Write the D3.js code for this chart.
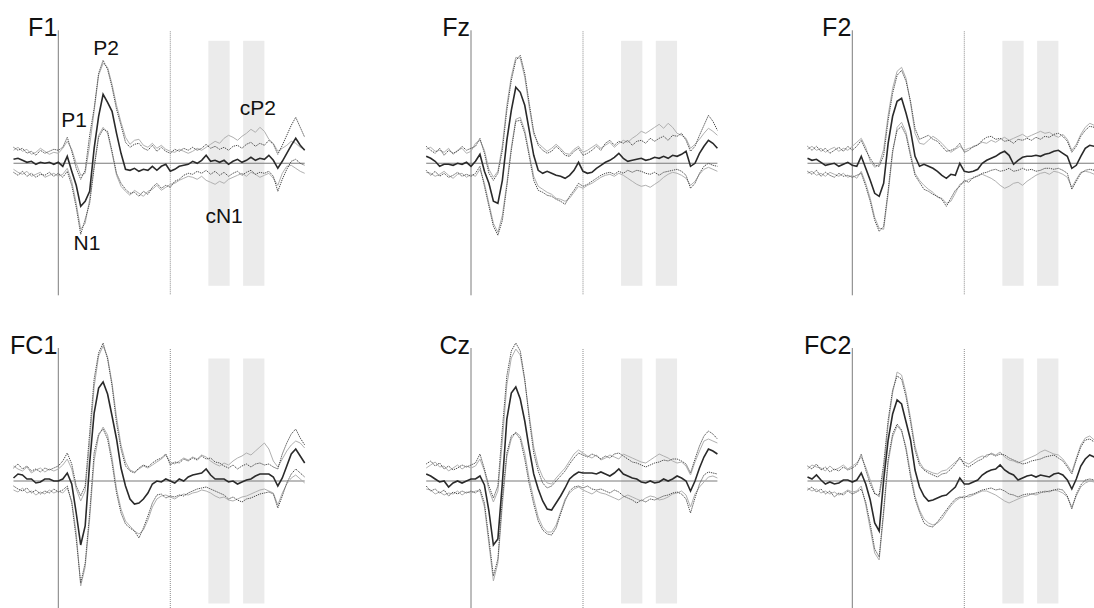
<!DOCTYPE html>
<html>
<head>
<meta charset="utf-8">
<script src="https://cdn.jsdelivr.net/npm/d3@7"></script>
<style>
  body { margin: 0; background: #fff; }
  svg { display: block; font-family: "Liberation Sans", Arial, sans-serif; }
  .band { fill: #ebebeb; }
  .onset { stroke: #7c7c7c; stroke-width: 1; }
  .change { stroke: #8c8c8c; stroke-width: 1; stroke-dasharray: 1,1; }
  .zero { stroke: #7a7a7a; stroke-width: 1.1; }
  .mean { fill: none; stroke: #2a2a2a; stroke-width: 1.6; }
  .ci { fill: none; stroke: #4a4a4a; stroke-width: 1; stroke-dasharray: 1.3,0.9; }
  .ci2 { fill: none; stroke: #b0b0b0; stroke-width: 1; }
  .name { font-size: 25px; fill: #111; }
  .peak { font-size: 21px; fill: #111; }
</style>
</head>
<body>
<script>
// sampling grid (ms), every 20 ms
const times = d3.range(-200, 1101, 20);

const channels = ["F1", "Fz", "F2", "FC1", "Cz", "FC2"];

// onset of the change and the two analysis windows (ms)
const changeAt = 500;
const windows = [[670, 765], [825, 920]];

// component labels, only on F1
const peakLabels = [
    {text: "P2", t: 213, v: 10.8},
    {text: "P1", t: 70, v: 3.6},
    {text: "N1", t: 128, v: -8.7},
    {text: "cN1", t: 740, v: -6.0},
    {text: "cP2", t: 891, v: 4.8}
];

// µV, grand mean and two sets of bounds per channel
const meanF1 = [0.4,0.5,0.3,0.1,0.2,-0.1,0.1,0.0,0.1,-0.1,
    0.1,-0.3,0.7,-0.8,-2.2,-4.3,-3.8,-2.8,1.5,4.7,
    6.9,6.1,5.2,3.0,1.0,-0.6,-0.7,-0.5,-0.8,-0.6,
    -0.7,-0.3,-0.7,-0.3,-0.1,-0.8,-0.6,-0.3,-0.2,-0.1,
    0.2,0.0,0.3,0.8,0.2,0.3,0.1,0.3,-0.1,0.2,
    0.4,0.1,0.3,0.6,0.3,0.5,0.4,0.8,0.3,-0.5,
    0.2,1.0,1.8,2.5,1.8,1.3];
const upperF1 = [1.6,1.3,1.5,1.0,1.2,0.8,1.3,1.0,1.2,1.4,
    1.3,1.6,2.6,1.2,-0.5,-1.6,-0.7,2.8,5.5,9.0,
    10.3,9.4,7.6,5.4,3.8,2.1,1.6,1.9,2.0,1.5,
    1.3,1.8,1.2,1.6,1.2,1.0,1.4,1.2,1.5,1.3,
    1.6,1.3,1.5,1.9,1.5,1.7,1.4,1.6,1.3,1.7,
    1.8,1.5,1.9,2.1,1.7,2.0,1.8,2.3,1.9,0.9,
    1.8,2.8,3.8,4.6,3.6,2.6];
const lowerF1 = [-0.9,-1.2,-0.8,-1.3,-1.0,-1.4,-1.1,-1.2,-0.9,-1.3,
    -1.0,-1.4,-0.8,-2.2,-4.4,-7.1,-5.6,-4.0,-0.5,2.6,
    3.4,3.2,1.2,-1.0,-2.0,-2.6,-3.0,-2.9,-3.3,-2.8,
    -3.1,-2.4,-2.0,-2.5,-2.2,-2.4,-1.8,-1.6,-1.2,-1.0,
    -1.1,-0.8,-1.0,-0.7,-1.1,-0.8,-1.2,-0.9,-1.3,-1.0,
    -0.8,-1.2,-0.9,-0.7,-1.1,-0.9,-1.0,-0.8,-1.3,-2.8,
    -1.6,-0.6,0.2,0.4,0.0,-0.2];
const upper2F1 = [1.3,1.6,1.2,1.4,0.9,1.1,1.5,1.2,0.9,1.1,
    1.0,1.5,2.2,1.4,0.0,-1.2,-1.0,1.8,5.2,8.8,
    10.0,9.6,7.9,5.8,4.1,2.6,1.9,2.3,2.4,1.8,
    1.6,2.0,1.5,1.8,1.4,1.2,1.1,1.4,1.2,1.0,
    1.2,1.5,1.3,1.6,1.9,2.2,2.0,2.5,2.8,2.6,
    2.3,2.7,3.0,3.4,3.1,3.6,3.2,2.4,2.0,1.2,
    1.5,1.8,2.2,2.0,1.6,1.4];
const lower2F1 = [-0.6,-0.9,-1.1,-0.8,-1.3,-1.1,-0.9,-1.4,-1.2,-1.0,
    -1.3,-1.1,-0.5,-1.8,-4.0,-6.6,-6.0,-3.6,-0.2,2.8,
    3.6,3.0,1.0,-1.2,-2.3,-2.8,-3.2,-2.7,-3.0,-3.3,
    -2.8,-2.6,-2.2,-2.7,-2.4,-2.1,-2.0,-1.7,-1.5,-1.3,
    -1.4,-1.6,-1.3,-1.7,-1.9,-2.1,-1.8,-2.0,-1.6,-1.4,
    -1.2,-1.0,-1.3,-0.9,-1.1,-1.4,-1.2,-1.0,-1.5,-2.2,
    -1.0,-0.3,-0.2,-0.5,-0.8,-1.0];

const meanFz = [0.7,0.5,0.2,-0.3,-0.1,-0.1,-0.2,0.0,-0.1,0.1,
    -0.3,0.2,0.9,-0.8,-2.0,-3.8,-4.0,-1.7,2.3,5.3,
    7.6,7.1,5.8,3.3,0.8,-0.7,-1.0,-0.8,-1.0,-1.2,
    -1.3,-1.5,-1.2,-0.7,0.1,-0.8,-1.0,-0.9,-0.5,-0.2,
    0.1,0.3,0.6,1.0,0.5,0.2,0.3,0.4,0.5,0.3,
    0.4,0.6,0.5,0.7,0.5,0.8,0.7,0.9,1.2,-0.3,
    0.0,1.0,1.7,2.3,2.0,1.5];
const upperFz = [1.7,1.3,1.0,1.5,0.8,1.3,1.0,1.2,1.7,1.3,
    1.5,1.7,2.5,1.0,-1.0,-1.7,-1.0,1.3,5.3,8.3,
    10.3,10.8,9.0,6.0,3.2,1.8,1.3,1.0,1.2,1.7,
    1.3,0.8,0.7,1.2,1.5,0.8,1.0,1.3,1.7,1.3,
    2.0,2.3,1.8,2.2,2.0,2.3,1.8,2.2,2.3,2.0,
    2.5,2.2,2.5,2.7,2.3,2.8,2.7,3.0,2.3,1.2,
    1.7,2.8,3.8,4.8,4.2,3.3];
const lowerFz = [-0.7,-1.2,-0.8,-1.3,-1.0,-1.4,-1.2,-0.9,-1.3,-1.1,
    -1.3,-1.0,-0.3,-2.3,-4.3,-6.3,-7.2,-5.7,-2.3,1.3,
    4.2,4.3,3.0,0.7,-1.7,-2.7,-2.9,-3.2,-3.3,-3.6,
    -3.8,-4.1,-3.3,-2.7,-2.0,-2.3,-2.1,-1.8,-1.5,-1.2,
    -1.0,-0.9,-1.1,-0.8,-1.0,-0.7,-0.9,-0.7,-0.8,-1.0,
    -1.1,-0.9,-1.2,-0.9,-0.8,-0.7,-0.6,-0.8,-1.2,-2.5,
    -2.0,-1.0,-0.3,0.0,-0.2,-0.3];
const upper2Fz = [1.4,1.6,1.2,1.3,1.1,1.5,0.9,1.3,1.5,1.0,
    1.2,2.0,2.3,1.3,-0.6,-1.4,-0.8,1.8,5.8,8.7,
    10.6,10.5,8.6,5.6,2.9,2.0,1.6,1.2,1.5,1.9,
    1.5,1.0,0.9,1.4,1.7,1.1,1.3,1.6,1.9,1.5,
    1.8,2.1,1.6,2.0,2.3,2.1,2.5,2.8,3.2,3.0,
    3.3,3.6,3.9,3.5,4.0,3.6,3.0,2.8,2.5,1.5,
    1.9,2.4,3.0,3.5,3.2,2.8];
const lower2Fz = [-0.9,-1.0,-1.3,-1.1,-0.8,-1.2,-1.5,-1.1,-1.0,-1.4,
    -1.1,-1.3,-0.6,-2.0,-4.0,-6.0,-6.9,-5.2,-2.0,1.6,
    4.4,4.6,3.3,1.0,-1.3,-2.3,-2.6,-2.9,-3.1,-3.5,
    -3.6,-3.8,-3.5,-2.9,-2.3,-2.5,-2.2,-2.0,-1.7,-1.4,
    -1.2,-1.1,-1.3,-1.0,-1.2,-1.5,-1.8,-2.1,-2.3,-2.2,
    -2.4,-2.1,-1.8,-1.4,-1.1,-0.9,-1.0,-1.2,-1.5,-2.2,
    -1.8,-1.1,-0.6,-0.4,-0.6,-0.8];

const meanF2 = [0.5,0.3,0.4,0.1,-0.2,-0.1,0.0,-0.3,-0.1,0.1,
    -0.2,-0.3,0.7,-0.5,-1.7,-3.0,-3.3,-2.0,2.0,4.7,
    6.2,6.5,5.0,3.3,0.7,-0.3,-0.1,-0.3,-0.5,-0.8,
    -1.2,-1.5,-1.1,-1.2,0.0,-0.8,-0.9,-0.8,-0.6,0.0,
    0.3,0.5,0.7,1.0,1.2,0.8,-0.1,0.3,0.6,0.7,
    0.7,0.8,0.7,0.9,1.0,1.2,1.3,1.0,0.7,-0.5,
    -0.2,0.7,1.5,1.8,1.7,1.5];
const upperF2 = [1.7,1.3,1.7,1.2,1.5,1.0,1.3,1.6,1.2,1.7,
    1.3,1.7,2.3,1.3,0.5,-0.2,-0.3,0.8,4.3,7.0,
    8.8,9.3,8.2,6.2,3.5,2.4,2.6,2.8,2.4,2.2,
    1.7,1.2,1.3,1.5,2.0,1.1,1.3,1.7,1.8,2.3,
    2.6,2.7,2.4,2.5,2.2,2.3,2.0,2.4,2.3,2.5,
    2.3,2.6,2.4,2.7,2.6,2.9,3.0,2.7,2.2,1.1,
    1.7,2.7,3.3,3.7,3.6,3.3];
const lowerF2 = [-0.8,-1.1,-0.7,-1.3,-0.9,-1.2,-1.4,-1.0,-1.3,-1.2,
    -1.4,-1.2,-1.0,-2.3,-3.8,-5.7,-6.8,-6.3,-2.7,1.3,
    3.3,3.7,2.8,0.7,-1.2,-1.9,-2.6,-2.8,-3.1,-3.3,
    -3.6,-4.3,-3.5,-2.7,-2.3,-1.7,-1.9,-1.4,-1.3,-1.0,
    -0.9,-0.7,-0.6,-0.8,-0.7,-0.5,-0.8,-0.7,-0.5,-0.7,
    -0.6,-0.8,-0.7,-0.5,-0.5,-0.6,-0.5,-0.7,-1.0,-2.6,
    -1.8,-1.0,-0.7,-0.6,-0.7,-0.7];
const upper2F2 = [1.4,1.7,1.3,1.5,1.1,1.4,1.6,1.2,1.5,1.3,
    1.7,2.1,2.5,1.6,0.2,-0.4,-0.1,1.4,4.8,7.5,
    9.2,9.6,8.5,6.0,3.0,2.0,1.9,2.3,2.7,2.4,
    2.0,1.5,1.1,1.4,1.7,1.3,1.5,1.6,1.9,2.1,
    2.0,2.3,2.1,2.4,2.6,2.3,2.5,2.7,2.9,2.6,
    2.8,3.0,3.2,3.0,3.1,2.8,2.6,2.9,2.4,1.3,
    1.9,2.9,3.6,4.0,3.8,3.5];
const lower2F2 = [-1.0,-0.8,-1.2,-1.0,-1.3,-0.9,-1.1,-1.3,-1.0,-1.4,
    -1.2,-1.5,-0.8,-2.0,-3.5,-5.4,-6.5,-6.6,-3.1,1.0,
    3.6,4.1,3.1,1.0,-1.0,-1.7,-2.2,-2.6,-2.9,-3.4,
    -3.5,-4.0,-3.8,-3.0,-2.1,-1.9,-1.6,-1.5,-1.2,-1.1,
    -1.3,-1.5,-1.8,-2.2,-2.5,-2.3,-2.0,-1.9,-2.2,-1.8,
    -1.5,-1.2,-1.0,-0.9,-1.1,-0.8,-0.9,-1.1,-1.4,-2.4,
    -1.6,-0.9,-0.8,-0.9,-1.1,-1.0];

const meanFC1 = [0.3,0.7,0.6,0.2,0.2,-0.2,-0.1,0.2,0.2,0.0,
    0.0,0.2,0.8,-0.3,-3.2,-6.4,-4.5,1.8,6.8,9.3,
    9.9,8.7,6.5,4.2,1.3,-0.5,-1.8,-2.3,-2.2,-1.8,
    -1.2,-0.3,0.0,-0.1,0.2,0.0,-0.2,0.2,0.0,0.4,
    0.6,0.7,0.8,1.2,0.6,0.2,0.2,0.2,-0.1,0.0,
    -0.3,-0.1,0.1,0.2,0.5,0.7,0.7,0.7,0.4,-0.5,
    0.3,1.5,2.7,3.2,2.5,1.8];
const upperFC1 = [1.3,1.7,1.2,1.5,1.0,1.2,0.9,1.3,1.1,1.3,
    1.5,2.0,2.8,1.7,-0.5,-1.5,-0.5,4.8,10.2,12.8,
    13.8,12.2,9.5,5.8,3.2,1.5,1.0,0.8,1.3,1.6,
    1.4,1.8,2.1,2.3,2.7,1.6,1.9,1.8,2.2,2.0,
    2.3,2.1,2.5,2.2,2.3,1.9,1.8,1.5,1.3,1.6,
    1.2,1.5,1.7,1.4,1.7,1.8,1.6,1.7,1.4,1.2,
    2.7,3.8,4.7,5.2,4.3,3.6];
const lowerFC1 = [-0.5,-0.8,-1.0,-0.7,-1.2,-0.9,-1.3,-1.0,-1.2,-0.8,
    -1.1,-0.9,-0.5,-2.2,-5.8,-10.2,-8.2,-3.2,2.8,4.7,
    5.2,4.2,1.8,-1.2,-3.2,-4.3,-4.7,-5.0,-5.7,-4.7,
    -3.5,-2.2,-1.4,-1.3,-1.7,-1.5,-1.6,-1.4,-1.5,-1.2,
    -1.0,-0.8,-0.7,-0.6,-0.8,-1.0,-1.2,-1.4,-1.8,-1.6,
    -1.9,-2.1,-1.8,-1.7,-1.5,-1.3,-1.2,-1.1,-1.3,-2.7,
    -1.5,-0.2,0.7,1.2,0.8,0.4];
const upper2FC1 = [1.5,1.2,1.0,1.4,0.8,1.1,1.3,0.9,1.2,1.0,
    1.2,1.6,2.2,1.2,-0.8,-2.0,-1.0,3.8,9.4,12.5,
    13.5,12.4,9.8,6.4,3.6,1.9,1.1,0.9,1.2,1.5,
    1.3,1.6,1.9,2.2,2.6,1.9,1.7,2.0,2.3,2.1,
    2.4,2.2,2.6,2.4,2.0,1.7,1.5,1.8,1.6,2.0,
    2.3,2.5,2.8,2.6,3.0,3.4,3.8,3.2,2.0,1.4,
    2.2,3.0,3.6,4.0,3.8,3.3];
const lower2FC1 = [-0.9,-1.1,-0.7,-1.2,-1.0,-1.4,-1.1,-1.3,-0.9,-1.2,
    -1.0,-1.2,-0.7,-2.0,-5.2,-10.5,-8.6,-3.8,2.0,4.5,
    5.4,4.6,2.3,-0.8,-2.8,-4.0,-4.5,-5.0,-5.3,-4.9,
    -3.9,-2.6,-1.8,-1.5,-1.4,-1.6,-1.8,-1.5,-1.3,-1.4,
    -1.2,-1.1,-0.9,-1.0,-1.2,-1.5,-1.7,-1.6,-1.9,-2.0,
    -1.8,-1.6,-1.5,-1.3,-1.1,-0.9,-0.8,-1.0,-1.2,-2.4,
    -1.2,-0.3,0.3,0.6,0.2,-0.2];

const meanCz = [0.7,0.5,0.2,-0.1,0.0,-0.6,-0.2,0.0,-0.2,0.0,
    0.2,0.2,0.5,-0.4,-3.0,-6.4,-5.8,-0.2,6.2,8.8,
    9.4,8.2,6.0,3.2,0.7,-0.8,-2.0,-2.8,-2.9,-2.2,
    -1.5,-0.7,0.2,0.6,0.9,0.8,0.8,0.8,0.7,0.9,
    0.7,0.5,0.8,1.2,0.7,0.5,0.3,0.2,-0.1,-0.2,
    0.0,-0.2,-0.1,0.2,0.0,0.2,0.5,0.3,0.0,-1.0,
    0.0,1.3,2.4,3.2,3.0,2.7];
const upperCz = [1.7,2.0,1.5,1.8,1.2,1.5,1.1,1.3,1.6,1.4,
    1.6,1.8,2.7,1.2,-0.5,-1.7,-0.5,5.2,10.5,13.0,
    13.8,13.0,10.2,6.2,2.8,1.0,-0.2,-0.7,-0.5,0.0,
    0.5,1.0,1.7,2.3,2.8,2.6,2.4,2.7,2.5,2.2,
    2.5,2.3,2.7,2.8,2.5,2.2,1.9,1.8,1.6,1.4,
    1.6,1.8,1.9,2.1,2.0,2.2,2.2,2.0,1.7,0.8,
    2.2,3.5,4.5,5.0,4.7,4.2];
const lowerCz = [-0.5,-1.0,-0.8,-1.2,-0.9,-1.5,-1.1,-1.3,-1.0,-1.2,
    -1.0,-1.2,-0.8,-2.2,-5.8,-9.5,-7.8,-1.8,2.8,4.5,
    4.8,4.2,2.2,-0.3,-2.3,-4.0,-4.9,-5.3,-5.4,-4.7,
    -3.3,-2.0,-1.0,-0.6,-0.5,-0.7,-0.5,-0.8,-0.9,-0.8,
    -1.0,-1.2,-0.9,-1.1,-1.5,-1.7,-1.9,-2.2,-1.9,-2.1,
    -1.8,-1.9,-1.7,-1.5,-1.4,-1.2,-1.1,-1.3,-1.8,-3.2,
    -1.7,-0.3,0.6,0.9,0.8,0.7];
const upper2Cz = [1.3,1.6,1.9,1.4,1.5,1.0,1.3,1.6,1.2,1.5,
    1.3,1.5,2.2,1.0,-0.9,-2.1,-1.0,4.0,9.6,12.3,
    13.2,12.6,10.0,6.6,3.4,1.5,0.4,-0.2,-0.3,0.3,
    0.8,1.3,2.0,2.7,3.1,2.8,2.5,2.3,2.6,2.1,
    2.3,2.6,2.4,2.2,2.7,2.5,2.3,2.1,1.9,1.8,
    2.1,2.4,2.7,2.5,2.3,2.0,1.8,1.9,1.5,0.6,
    1.9,3.0,4.0,4.2,4.0,3.8];
const lower2Cz = [-0.8,-0.9,-1.3,-1.1,-1.4,-1.2,-1.3,-1.0,-1.4,-1.1,
    -1.2,-1.0,-1.0,-2.6,-6.3,-10.0,-8.2,-2.4,2.4,4.2,
    4.9,4.5,2.8,0.2,-1.8,-3.6,-4.6,-5.1,-5.1,-4.4,
    -3.1,-1.8,-1.2,-0.8,-0.6,-0.9,-1.1,-1.3,-1.0,-1.2,
    -1.3,-1.5,-1.7,-1.9,-1.6,-1.4,-1.6,-1.8,-2.0,-1.7,
    -1.5,-1.6,-1.9,-1.8,-1.6,-1.3,-1.2,-1.0,-1.4,-2.6,
    -1.3,-0.6,-0.1,0.4,0.5,0.3];

const meanFC2 = [0.4,0.2,0.6,0.1,-0.3,-0.1,-0.3,-0.2,0.1,0.1,
    -0.1,0.1,0.8,-0.3,-1.9,-4.2,-5.0,0.1,4.1,6.7,
    8.1,7.7,5.9,4.1,1.1,-0.6,-1.5,-2.0,-1.9,-1.7,
    -1.5,-1.4,-1.0,-0.6,0.3,-0.3,-0.3,-0.1,0.1,0.6,
    0.9,1.1,1.2,1.6,1.1,0.8,0.6,0.1,0.3,0.5,
    0.6,0.4,0.6,0.5,0.4,0.7,0.8,0.6,0.1,-0.8,
    0.2,1.5,2.2,2.6,2.4,2.2];
const upperFC2 = [1.5,1.2,1.7,1.1,1.4,0.9,1.2,1.0,1.4,1.1,
    1.3,1.6,2.7,1.1,-0.3,-1.3,-1.4,1.7,6.1,9.1,
    10.5,10.2,8.4,5.9,3.1,1.6,1.1,0.8,0.6,0.4,
    0.7,0.8,1.2,1.7,2.4,1.6,1.4,1.7,2.0,2.2,
    2.6,2.7,2.5,2.7,2.6,2.3,2.1,1.9,1.7,1.8,
    2.0,2.1,2.2,2.4,2.5,2.6,2.3,2.0,1.4,0.7,
    2.1,3.4,4.1,4.2,3.9,3.7];
const lowerFC2 = [-0.9,-0.6,-1.1,-0.8,-1.3,-1.0,-1.6,-1.2,-1.4,-1.0,
    -1.3,-1.1,-0.8,-2.1,-4.3,-6.8,-7.6,-2.9,2.2,4.7,
    5.7,5.1,3.1,0.4,-1.8,-3.1,-4.2,-4.5,-4.6,-4.1,
    -3.5,-2.9,-2.3,-1.8,-1.6,-1.7,-1.4,-1.3,-1.1,-0.9,
    -0.8,-0.7,-0.9,-0.8,-1.0,-1.3,-1.4,-1.6,-1.4,-1.3,
    -1.3,-1.2,-1.1,-1.1,-1.0,-0.9,-0.8,-0.9,-1.5,-2.8,
    -1.3,-0.4,0.1,0.2,0.1,0.1];
const upper2FC2 = [1.2,1.6,1.4,1.3,1.0,1.5,1.1,1.3,1.6,1.2,
    1.5,1.8,2.4,1.4,0.1,-1.2,-1.6,1.0,5.6,8.8,
    10.9,10.6,8.8,6.3,3.5,1.9,1.2,1.0,0.8,0.7,
    1.0,1.1,1.5,1.9,2.2,1.9,1.7,2.0,2.3,2.5,
    2.4,2.8,2.6,2.9,2.4,2.1,2.0,1.8,2.0,2.2,
    2.4,2.6,2.9,3.1,2.9,2.7,2.6,2.2,1.6,0.9,
    2.3,3.6,4.3,4.5,4.1,3.9];
const lower2FC2 = [-0.7,-1.0,-0.8,-1.2,-1.0,-1.3,-1.1,-1.4,-1.2,-0.9,
    -1.1,-1.0,-0.5,-2.4,-4.8,-7.2,-7.9,-3.3,1.8,4.4,
    5.5,5.0,3.4,0.8,-1.5,-2.9,-3.8,-4.2,-4.4,-4.2,
    -3.8,-3.1,-2.5,-2.0,-1.7,-1.5,-1.6,-1.4,-1.2,-1.0,
    -1.0,-1.2,-1.4,-1.7,-2.0,-2.2,-2.0,-1.8,-1.6,-1.5,
    -1.3,-1.4,-1.2,-1.0,-1.1,-0.9,-1.0,-1.2,-1.6,-2.6,
    -1.5,-0.6,-0.2,0.0,-0.1,0.0];

const waves = {
    F1:  {mean: meanF1,  upper: upperF1,  lower: lowerF1,  upper2: upper2F1,  lower2: lower2F1},
    Fz:  {mean: meanFz,  upper: upperFz,  lower: lowerFz,  upper2: upper2Fz,  lower2: lower2Fz},
    F2:  {mean: meanF2,  upper: upperF2,  lower: lowerF2,  upper2: upper2F2,  lower2: lower2F2},
    FC1: {mean: meanFC1, upper: upperFC1, lower: lowerFC1, upper2: upper2FC1, lower2: lower2FC1},
    Cz:  {mean: meanCz,  upper: upperCz,  lower: lowerCz,  upper2: upper2Cz,  lower2: lower2Cz},
    FC2: {mean: meanFC2, upper: upperFC2, lower: lowerFC2, upper2: upper2FC2, lower2: lower2FC2}
};

const width = 1094, height = 608;
const colX = [58.3, 471, 852.3];   // stimulus onset of each column
const rowY = [163.3, 481];         // zero line of each row

const svg = d3.select("body").append("svg")
    .attr("width", width)
    .attr("height", height);

class Panel {
    constructor(parent, cx, cy, name) {
        this.name = name;
        this.g = parent.append("g")
            .attr("class", "panel")
            .attr("transform", "translate(" + cx + "," + cy + ")");

        this.x = d3.scaleLinear().domain([-200, 1100]).range([-44.8, 246.4]);
        this.y = d3.scaleLinear().domain([-13.2, 13.3]).range([132, -133]);
    }

    set data(d) {
        this.d = d;
        this._frame();
        this._lines();
    }

    _frame() {
        let obj = this;
        let x = this.x, y = this.y;

        this.g.selectAll(".band").data(windows).enter().append("rect")
            .attr("class", "band")
            .attr("x", function (w) { return x(w[0]); })
            .attr("width", function (w) { return x(w[1]) - x(w[0]); })
            .attr("y", y(12.25))
            .attr("height", y(-12.25) - y(12.25));

        this.g.append("line").attr("class", "onset")
            .attr("x1", x(0)).attr("x2", x(0))
            .attr("y1", y.range()[1]).attr("y2", y.range()[0]);

        this.g.append("line").attr("class", "change")
            .attr("x1", x(changeAt)).attr("x2", x(changeAt))
            .attr("y1", y.range()[1] + 1).attr("y2", y.range()[0]);

        this.g.append("line").attr("class", "zero")
            .attr("x1", x(-200)).attr("x2", x(1100))
            .attr("y1", y(0)).attr("y2", y(0));

        this.g.append("text").attr("class", "name")
            .attr("x", x(0) - 1)
            .attr("y", y(12.7))
            .attr("text-anchor", "end")
            .text(obj.name);
    }

    _lines() {
        let x = this.x, y = this.y;
        let line = d3.line()
            .x(function (v, i) { return x(times[i]); })
            .y(function (v) { return y(v); });

        let order = [["upper2", "ci2"], ["lower2", "ci2"], ["upper", "ci"], ["lower", "ci"], ["mean", "mean"]];
        for (let k of order) {
            this.g.append("path")
                .attr("class", k[1])
                .attr("d", line(this.d[k[0]]));
        }
    }

    labels(list) {
        let x = this.x, y = this.y;
        this.g.selectAll(".peak").data(list).enter().append("text")
            .attr("class", "peak")
            .attr("x", function (d) { return x(d.t); })
            .attr("y", function (d) { return y(d.v); })
            .attr("text-anchor", "middle")
            .text(function (d) { return d.text; });
    }
}

channels.forEach(function (name, i) {
    let p = new Panel(svg, colX[i % 3], rowY[Math.floor(i / 3)], name);
    p.data = waves[name];
    if (name === "F1") p.labels(peakLabels);
});
</script>
</body>
</html>
